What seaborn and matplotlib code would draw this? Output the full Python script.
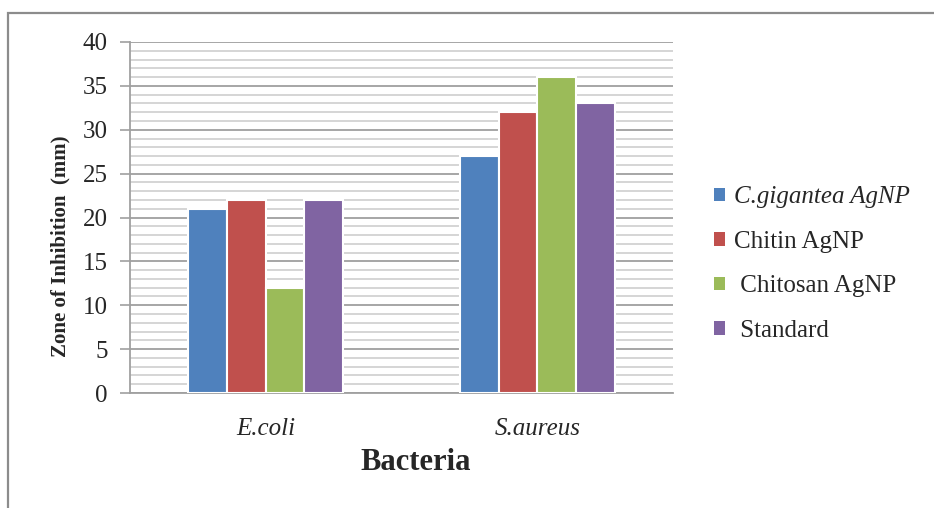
import matplotlib
matplotlib.use("Agg")
import matplotlib.pyplot as plt
import seaborn as sns
import pandas as pd
from matplotlib.ticker import MultipleLocator
from matplotlib.patches import Rectangle

# Zone of inhibition (mm) for each nanoparticle treatment, [E.coli, S.aureus]
bacteria = ["E.coli", "S.aureus"]
treatments = ["C.gigantea AgNP", "Chitin AgNP", " Chitosan AgNP", " Standard"]
cgigantea = [21, 27]
chitin = [22, 32]
chitosan = [12, 36]
standard = [22, 33]

colors = ["#4F81BD", "#C0504D", "#9BBB59", "#8064A2"]

rows = []
for name, vals in zip(treatments, [cgigantea, chitin, chitosan, standard]):
    for b, v in zip(bacteria, vals):
        rows.append({"Bacteria": b, "Treatment": name, "Zone": v})
df = pd.DataFrame(rows)

sns.set_style("white")
plt.rcParams["font.family"] = ["Liberation Serif", "DejaVu Serif"]

fig = plt.figure(figsize=(9.34, 5.08), dpi=100)
ax = fig.add_axes([130 / 934, 1 - 393 / 508, 543 / 934, 351 / 508])

sns.barplot(data=df, x="Bacteria", y="Zone", hue="Treatment",
            hue_order=treatments, palette=colors, saturation=1, width=0.57,
            edgecolor="white", linewidth=1.5, ax=ax, zorder=3,
            legend=True)

ax.set_ylim(0, 40)
ax.set_xlim(-0.5, 1.5)
ax.yaxis.set_major_locator(MultipleLocator(5))
ax.yaxis.set_minor_locator(MultipleLocator(1))
ax.grid(which="major", axis="y", color="#a6a6a6", linewidth=1.4, zorder=0)
ax.grid(which="minor", axis="y", color="#d2d2d2", linewidth=1.3, zorder=0)
ax.set_axisbelow(True)

for side in ["top", "right"]:
    ax.spines[side].set_visible(False)
for side in ["left", "bottom"]:
    ax.spines[side].set_color("#a0a0a0")
    ax.spines[side].set_linewidth(1.3)

ax.tick_params(axis="y", which="major", length=7, width=1.2, color="#a0a0a0",
               labelsize=18, pad=9, left=True)
ax.tick_params(axis="y", which="minor", length=0)
ax.tick_params(axis="x", length=0, labelsize=18, pad=18)
for lbl in ax.get_xticklabels():
    lbl.set_fontstyle("italic")

ax.set_xlabel("Bacteria", fontsize=22, fontweight="bold")
ax.xaxis.set_label_coords((416 - 130) / 543, -(448 - 393) / 351)
ax.set_ylabel("Zone of Inhibition  (mm)", fontsize=15, fontweight="bold")
ax.yaxis.set_label_coords(-(130 - 70) / 543, (393 - 246) / 351)

leg = ax.legend(loc="center left", bbox_to_anchor=(1.075, (393 - 264) / 351),
                frameon=False, fontsize=18, handlelength=0.45,
                handleheight=0.45, handletextpad=0.35, labelspacing=0.9,
                borderpad=0, borderaxespad=0)
for txt, name in zip(leg.get_texts(), treatments):
    if name.startswith("C.gig"):
        txt.set_fontstyle("italic")
for h in leg.legend_handles:
    h.set_edgecolor("none")

# outer chart border
fig.patches.append(Rectangle((8 / 934, -0.05), 1.2, 1 - 13 / 508 + 0.05,
                             transform=fig.transFigure, fill=False,
                             edgecolor="#8c8c8c", linewidth=1.6))

fig.savefig("out.png", dpi=100)
